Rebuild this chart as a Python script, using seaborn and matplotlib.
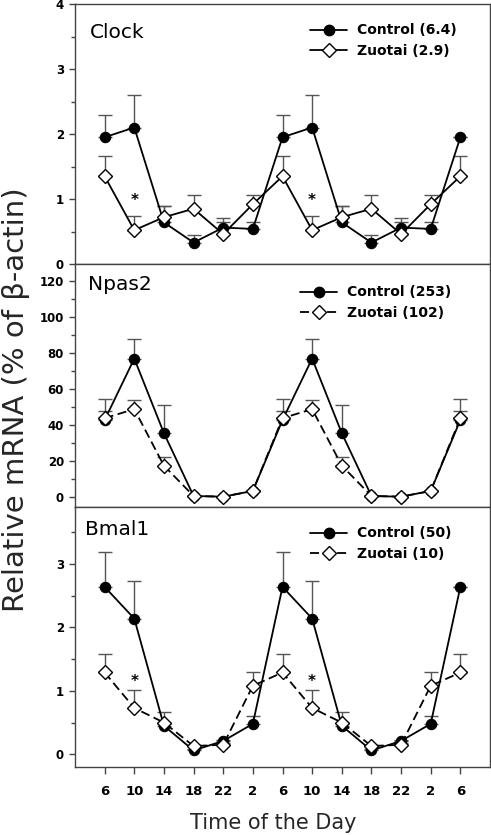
import matplotlib
matplotlib.use("Agg")
import matplotlib.pyplot as plt
from matplotlib.lines import Line2D
from matplotlib.ticker import MultipleLocator
import numpy as np
import seaborn as sns

# time of day labels (two cycles + one)
hours = ['6', '10', '14', '18', '22', '2', '6', '10', '14', '18', '22', '2', '6']

clock_ctrl = [1.95, 2.10, 0.64, 0.33, 0.56, 0.54, 1.95, 2.10, 0.64, 0.33, 0.56, 0.54, 1.95]
clock_ctrl_err = [0.35, 0.50, 0.26, 0.11, 0.15, 0.11, 0.35, 0.50, 0.26, 0.11, 0.15, 0.11, 0.0]
clock_zuo = [1.35, 0.52, 0.72, 0.85, 0.46, 0.92, 1.35, 0.52, 0.72, 0.85, 0.46, 0.92, 1.35]
clock_zuo_err = [0.31, 0.22, 0.18, 0.21, 0.19, 0.14, 0.31, 0.22, 0.18, 0.21, 0.19, 0.14, 0.31]

npas2_ctrl = [42.8, 76.8, 35.5, 0.7, 0.3, 3.5, 42.8, 76.8, 35.5, 0.7, 0.3, 3.5, 42.8]
npas2_ctrl_err = [11.7, 11.0, 15.8, 0.0, 0.0, 0.0, 11.7, 11.0, 15.8, 0.0, 0.0, 0.0, 11.7]
npas2_zuo = [43.8, 48.8, 17.5, 0.7, 0.3, 3.5, 43.8, 48.8, 17.5, 0.7, 0.3, 3.5, 43.8]
npas2_zuo_err = [3.7, 4.8, 4.7, 0.0, 0.0, 0.5, 3.7, 4.8, 4.7, 0.0, 0.0, 0.5, 3.7]

bmal1_ctrl = [2.64, 2.14, 0.45, 0.06, 0.21, 0.48, 2.64, 2.14, 0.45, 0.06, 0.21, 0.48, 2.64]
bmal1_ctrl_err = [0.55, 0.60, 0.05, 0.02, 0.02, 0.13, 0.55, 0.60, 0.05, 0.02, 0.02, 0.13, 0.0]
bmal1_zuo = [1.29, 0.73, 0.50, 0.13, 0.15, 1.08, 1.29, 0.73, 0.50, 0.13, 0.15, 1.08, 1.29]
bmal1_zuo_err = [0.29, 0.28, 0.16, 0.02, 0.02, 0.22, 0.29, 0.28, 0.16, 0.02, 0.02, 0.22, 0.29]

genes = ['Clock', 'Npas2', 'Bmal1']
ctrl_labels = ['Control (6.4)', 'Control (253)', 'Control (50)']
zuo_labels = ['Zuotai (2.9)', 'Zuotai (102)', 'Zuotai (10)']
star_x = [1, 7]
star_y = [0.97, None, 1.15]

sns.set_style("ticks")
plt.rcParams['font.family'] = ['DejaVu Sans']
plt.rcParams['text.color'] = 'black'

fig = plt.figure(figsize=(4.91, 8.35), dpi=100)
left, width = 75 / 491, 415 / 491
boxes = [(4, 264), (264, 507), (507, 766.7)]
axes = [fig.add_axes([left, 1 - b / 835, width, (b - t) / 835]) for t, b in boxes]

x = np.arange(len(hours))
panels = [
    (clock_ctrl, clock_ctrl_err, clock_zuo, clock_zuo_err, (0, 4), 1, 0.5, '-'),
    (npas2_ctrl, npas2_ctrl_err, npas2_zuo, npas2_zuo_err, (-5.4, 129.2), 20, 10, (0, (5, 2.5))),
    (bmal1_ctrl, bmal1_ctrl_err, bmal1_zuo, bmal1_zuo_err, (-0.196, 3.9), 1, 0.5, (0, (5, 2.5))),
]
leg_pos = [(0.566, 0.925), (0.542, 0.912), (0.566, 0.925)]
lab_pos = [(0.036, 0.892), (0.031, 0.914), (0.024, 0.915)]

for i, (ax, (c, ce, z, ze, ylim, major, minor, zls)) in enumerate(zip(axes, panels)):
    ax.errorbar(x, c, yerr=[np.zeros(len(x)), ce], fmt='none', ecolor='#555555',
                elinewidth=1, capsize=5, capthick=1, zorder=1)
    ax.errorbar(x, z, yerr=[np.zeros(len(x)), ze], fmt='none', ecolor='#555555',
                elinewidth=1, capsize=5, capthick=1, zorder=1)
    sns.lineplot(x=x, y=c, ax=ax, color='black', marker='o', markersize=7.5,
                 markerfacecolor='black', markeredgecolor='black', linewidth=1.3,
                 sort=False, zorder=3)
    sns.lineplot(x=x, y=z, ax=ax, color='black', marker='D', markersize=7,
                 markerfacecolor='white', markeredgecolor='black', markeredgewidth=1,
                 linewidth=1.3, linestyle=zls, sort=False, zorder=4)

    ax.set_xlim(-1, 13)
    ax.set_ylim(*ylim)
    ax.yaxis.set_major_locator(MultipleLocator(major))
    ax.yaxis.set_minor_locator(MultipleLocator(minor))
    ax.tick_params(axis='y', which='major', length=4, width=1, color='#444444',
                   labelsize=8.5, labelcolor='black', pad=4)
    ax.tick_params(axis='y', which='minor', length=3, width=1, color='#444444')
    for lab in ax.get_yticklabels():
        lab.set_fontweight('bold')
    for sp in ax.spines.values():
        sp.set_visible(True)
        sp.set_color('#444444')
        sp.set_linewidth(1)

    if star_y[i] is not None:
        for sx in star_x:
            ax.text(sx, star_y[i], '*', ha='center', va='center', fontsize=11,
                    fontweight='bold')

    ax.text(lab_pos[i][0], lab_pos[i][1], genes[i], transform=ax.transAxes,
            ha='left', va='center', fontsize=14.5)

    handles = [
        Line2D([], [], color='black', marker='o', markersize=7.5, linewidth=1.3),
        Line2D([], [], color='black', marker='D', markersize=7, markerfacecolor='white',
               markeredgecolor='black', linewidth=1.3, linestyle=zls),
    ]
    ax.legend(handles, [ctrl_labels[i], zuo_labels[i]], loc='upper left',
              bbox_to_anchor=leg_pos[i], frameon=False, borderpad=0, borderaxespad=0,
              handlelength=2.7, handletextpad=0.7, labelspacing=0.45,
              prop={'weight': 'bold', 'size': 10})

    if i < 2:
        ax.tick_params(axis='x', bottom=False, labelbottom=False)
    else:
        ax.set_xticks(x)
        ax.set_xticklabels(hours, fontweight='bold', fontsize=9.5)
        ax.tick_params(axis='x', length=5, width=1, color='#444444',
                       labelcolor='black', pad=8)
    ax.set_xlabel('')
    ax.set_ylabel('')

axes[2].set_xlabel('Time of the Day', fontsize=15)
axes[2].xaxis.set_label_coords(0.477, -0.18)
axes[1].set_ylabel('Relative mRNA (% of β-actin)', fontsize=21)
axes[1].yaxis.set_label_coords(-0.108, 0.44)

fig.savefig('out.png', dpi=100)
